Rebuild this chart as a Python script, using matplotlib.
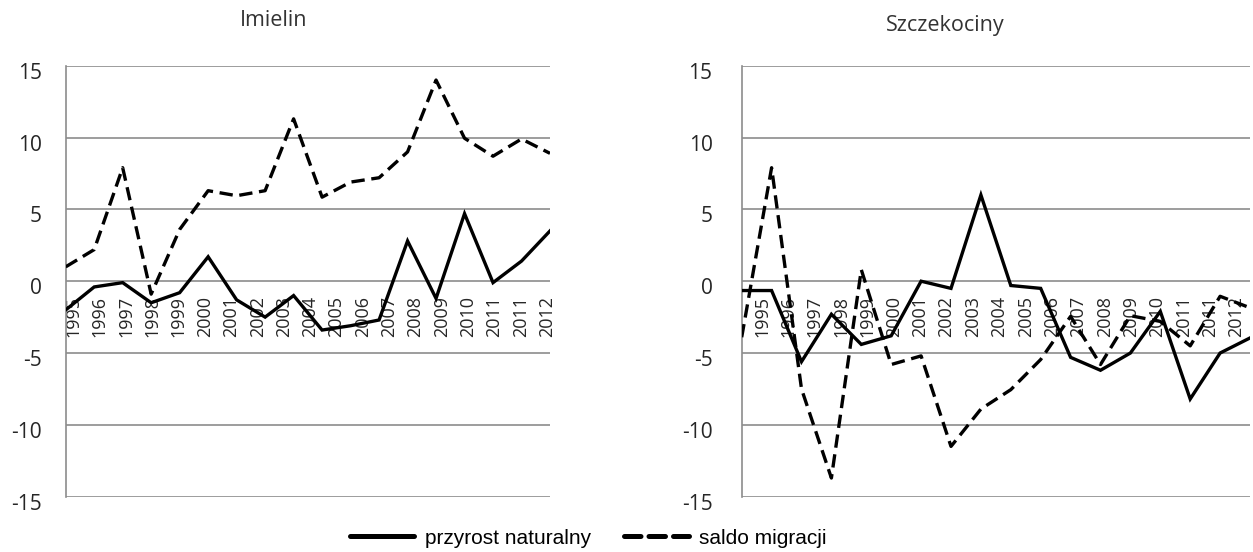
import matplotlib
matplotlib.use("Agg")
import matplotlib.pyplot as plt
import matplotlib.transforms as mtransforms
from matplotlib.lines import Line2D
import numpy as np

years = list(range(1995, 2013))
tick_labels = ["1995", "1996", "1997", "1998", "1999", "2000", "2001", "2002",
               "2003", "2004", "2005", "2006", "2007", "2008", "2009", "2010",
               "2011", "2011", "2012"]

imielin_przyrost = [-2.0, -0.4, -0.1, -1.5, -0.8, 1.7, -1.3, -2.5, -1.0, -3.4,
                    -3.1, -2.7, 2.8, -1.2, 4.7, -0.1, 1.4, 3.5]
imielin_saldo = [1.0, 2.2, 7.9, -0.9, 3.6, 6.3, 5.95, 6.3, 11.3, 5.85,
                 6.9, 7.2, 9.0, 14.0, 9.95, 8.7, 9.9, 8.9]

szcz_przyrost = [-0.65, -0.65, -5.6, -2.3, -4.4, -3.8, 0.0, -0.5, 6.0, -0.3,
                 -0.5, -5.3, -6.2, -5.0, -2.1, -8.2, -5.0, -3.95]
szcz_saldo = [-3.9, 7.9, -7.5, -13.7, 0.8, -5.8, -5.2, -11.5, -8.9, -7.55,
              -5.45, -2.45, -5.8, -2.4, -2.8, -4.5, -1.05, -1.85]

titles = ["Imielin", "Szczekociny"]
series_names = ["przyrost naturalny", "saldo migracji"]
yticks = [-15, -10, -5, 0, 5, 10, 15]

W, H = 1253, 552
fig = plt.figure(figsize=(W / 100, H / 100), dpi=100)

grid_col = "#8c8c8c"
text_col = "#262626"
dash = (0, (4, 2))

def make_axes(left_px, right_px, top_px, bottom_px):
    return fig.add_axes([left_px / W, 1 - bottom_px / H,
                         (right_px - left_px) / W, (bottom_px - top_px) / H])

axes = [make_axes(65.7, 550, 65.7, 496.7), make_axes(741.7, 1250, 65.7, 496.7)]
data = [(imielin_przyrost, imielin_saldo), (szcz_przyrost, szcz_saldo)]
label_pos = [(0.27, 16.9), (0.68, 16.55)]
ypads = [17, 21]
title_pos = [(274, 21), (945, 26)]

for i, ax in enumerate(axes):
    x = np.arange(len(years))
    p, s = data[i]
    ax.plot(x, p, color="black", lw=2.4, solid_joinstyle="miter", zorder=3)
    ax.plot(x, s, color="black", lw=2.4, linestyle=dash, zorder=3)
    ax.set_xlim(0, len(years) - 1)
    ax.set_ylim(-15, 15)
    for sp in ["top", "right", "bottom"]:
        ax.spines[sp].set_visible(False)
    ax.spines["left"].set_color(grid_col)
    ax.spines["left"].set_linewidth(1.2)
    for yv in yticks:
        ax.axhline(yv, color=grid_col, lw=1.2, zorder=1)
    ax.set_xticks([])
    ax.set_yticks(yticks)
    ax.set_yticklabels([str(v) for v in yticks], fontsize=15,
                       fontfamily="Open Sans", color=text_col)
    ax.tick_params(axis="y", length=0, pad=ypads[i])
    off = mtransforms.ScaledTranslation(0, -5 / 100, fig.dpi_scale_trans)
    for lab in ax.get_yticklabels():
        lab.set_transform(lab.get_transform() + off)
    xs = np.linspace(label_pos[i][0], label_pos[i][1], len(tick_labels))
    for xp, t in zip(xs, tick_labels):
        ax.annotate(t, xy=(xp, 0), xycoords="data", xytext=(0, -10.5),
                    textcoords="offset points", rotation=90, ha="center",
                    va="top", fontsize=13, fontfamily="Open Sans",
                    color=text_col, zorder=2)
    fig.text(title_pos[i][0] / W, 1 - title_pos[i][1] / H, titles[i],
             ha="center", va="center", fontsize=15.5, fontfamily="Open Sans",
             color="#333333")

handles = [Line2D([], [], color="black", lw=3.6, solid_capstyle="round"),
           Line2D([], [], color="black", lw=3.6, linestyle=(0, (3.3, 1.6)),
                  dash_capstyle="round")]
fig.legend(handles, series_names, loc="center",
           bbox_to_anchor=(588 / W, 1 - 538 / H), ncol=2, frameon=False,
           prop={"family": "Liberation Sans", "size": 15},
           handlelength=3.1, columnspacing=1.6, handletextpad=0.5)

fig.savefig("out.png", dpi=100)
